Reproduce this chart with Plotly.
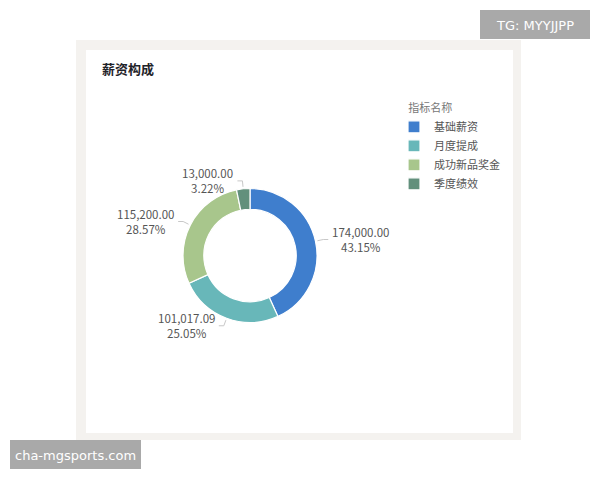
import math
import plotly.graph_objects as go

# data
labels = ["基础薪资", "月度提成", "成功新品奖金", "季度绩效"]
values = [174000.00, 101017.09, 115200.00, 13000.00]
colors = ["#3f7ecd", "#68b7b9", "#a8c68c", "#62907c"]

# the page puts the figure 8px in from the top-left corner
OFF = 8
W, H = 600 - OFF, 480 - OFF
cx, cy, r = 250, 255.5, 67  # donut centre / outer radius in screen pixels

def px(x):
    return (x - OFF) / W

def py(y):
    return 1 - (y - OFF) / H

fig = go.Figure(go.Pie(
    labels=labels,
    values=values,
    hole=0.69,
    sort=False,
    direction="clockwise",
    rotation=0,
    marker=dict(colors=colors, line=dict(color="white", width=1.2)),
    textinfo="none",
    hoverinfo="label+value+percent",
    domain=dict(x=[px(cx - r), px(cx + r)], y=[py(cy + r), py(cy - r)]),
))

# outside labels with small leader lines, placed from each slice's mid angle
total = sum(values)
shapes = []
annotations = []
acc = 0
for v in values:
    mid = (acc + v / 2) / total * 2 * math.pi
    acc += v
    a = math.pi / 2 - mid
    c, s = math.cos(a), math.sin(a)
    x0, y0 = cx + (r + 2) * c, cy - (r + 2) * s
    x1, y1 = cx + (r + 8) * c, cy - (r + 8) * s
    side = 1 if c >= 0 else -1
    x2 = x1 + side * 5
    shapes.append(dict(
        type="path", xref="paper", yref="paper",
        path=f"M {px(x0)} {py(y0)} L {px(x1)} {py(y1)} L {px(x2)} {py(y1)}",
        line=dict(color="#c8c8c8", width=1),
    ))
    annotations.append(dict(
        x=px(x2 + side * 2), y=py(y1), xref="paper", yref="paper",
        text=f"{v:,.2f}<br>{v / total:.2%}",
        showarrow=False, align="center",
        xanchor="left" if side > 0 else "right", yanchor="middle",
        font=dict(size=11.5, color="#555555"),
    ))

# card frame behind the chart
shapes.insert(0, dict(type="rect", xref="paper", yref="paper", layer="below",
                      x0=px(76), x1=px(521), y0=py(440), y1=py(40),
                      fillcolor="#f4f2ef", line=dict(width=0)))
shapes.insert(1, dict(type="rect", xref="paper", yref="paper", layer="below",
                      x0=px(86), x1=px(513), y0=py(433), y1=py(50),
                      fillcolor="white", line=dict(width=0)))

# grey watermark boxes
shapes.append(dict(type="rect", xref="paper", yref="paper",
                   x0=px(480), x1=px(590), y0=py(39), y1=py(10),
                   fillcolor="#a9a9a9", line=dict(width=0)))
shapes.append(dict(type="rect", xref="paper", yref="paper",
                   x0=px(10), x1=px(141), y0=py(469), y1=py(440),
                   fillcolor="#a9a9a9", line=dict(width=0)))
annotations.append(dict(x=px(535), y=py(25), xref="paper", yref="paper",
                        xanchor="center", yanchor="middle",
                        text="TG: MYYJJPP", showarrow=False,
                        font=dict(size=13, color="white", family="DejaVu Sans")))
annotations.append(dict(x=px(75.5), y=py(455), xref="paper", yref="paper",
                        xanchor="center", yanchor="middle",
                        text="cha-mgsports.com", showarrow=False,
                        font=dict(size=13, color="white", family="DejaVu Sans")))

# card title
annotations.append(dict(x=px(100), y=py(68), xref="paper", yref="paper",
                        text="<b>薪资构成</b>", showarrow=False,
                        xanchor="left", yanchor="middle",
                        font=dict(size=13, color="#1f2329")))

fig.update_layout(
    width=W, height=H,
    margin=dict(l=0, r=0, t=0, b=0),
    paper_bgcolor="white",
    font=dict(family="Noto Sans CJK SC, Noto Sans, sans-serif", color="#555555"),
    shapes=shapes,
    annotations=annotations,
    showlegend=True,
    legend=dict(
        x=px(394), y=py(98), xanchor="left", yanchor="top",
        title=dict(text="&nbsp;&nbsp;&nbsp;&nbsp;&nbsp;指标名称", font=dict(size=11, color="#777777")),
        font=dict(size=11, color="#555555"),
        bgcolor="rgba(0,0,0,0)",
        tracegroupgap=0,
    ),
)

fig.write_html("out.html")
